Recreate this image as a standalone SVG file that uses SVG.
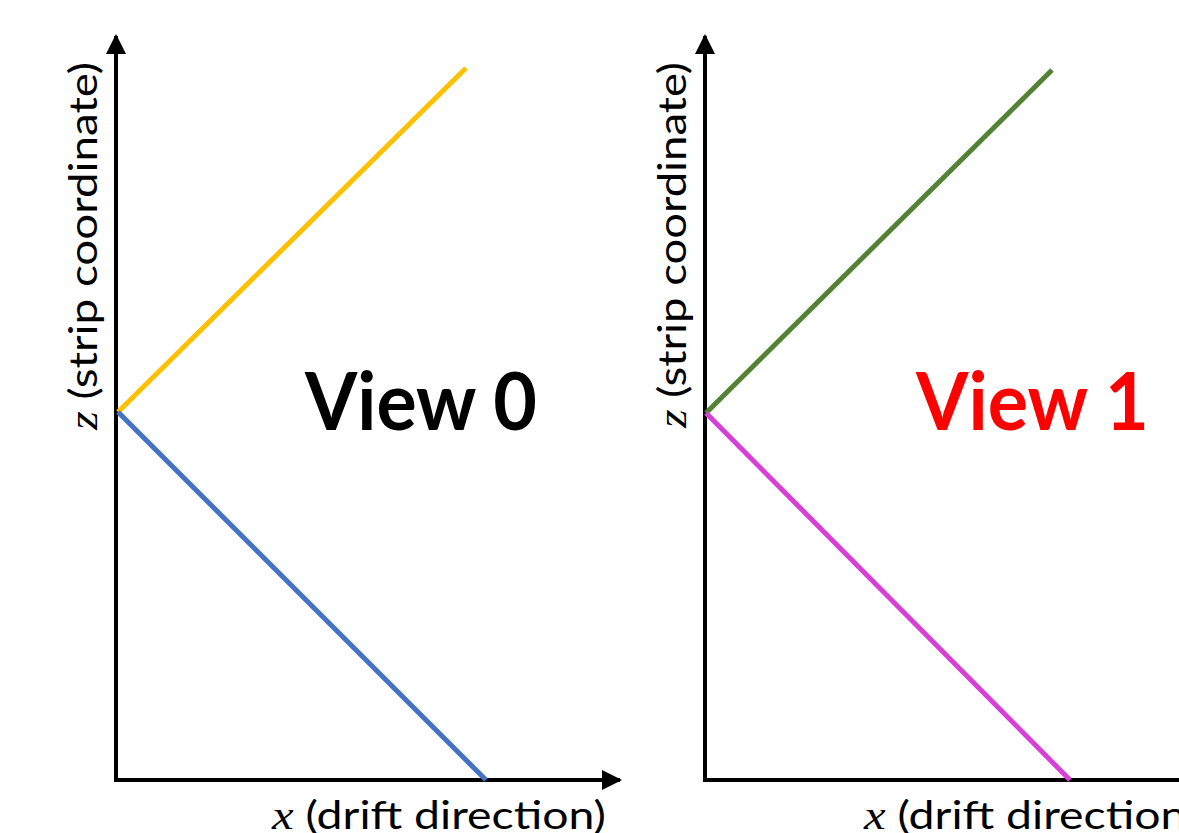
<svg xmlns="http://www.w3.org/2000/svg" width="1179" height="833" viewBox="0 0 1179 833">
<defs>
<marker id="ah" viewBox="0 0 10 10" refX="9" refY="5" markerWidth="5" markerHeight="5" orient="auto" markerUnits="strokeWidth"><path d="M0,0 L10,5 L0,10 z" fill="#000"/></marker>
</defs>
<style>
.ax{stroke:#000;stroke-width:4;fill:none}
.ln{stroke-width:5;fill:none;stroke-linecap:butt}
.lab{font-family:Lato,"Open Sans","Liberation Sans",sans-serif;font-size:38px;fill:#000}
.math{font-family:"Liberation Serif",serif;font-style:italic;font-size:40px}
.view{font-family:Lato,"Open Sans","Liberation Sans",sans-serif;font-weight:bold;font-size:80px}
</style>
<rect width="1179" height="833" fill="#fff"/>
<g id="axes">
<line class="ax" x1="116" y1="782" x2="116" y2="36" marker-end="url(#ah)"/>
<line class="ax" x1="114" y1="780" x2="620" y2="780" marker-end="url(#ah)"/>
<line class="ax" x1="705" y1="782" x2="705" y2="36" marker-end="url(#ah)"/>
<line class="ax" x1="703" y1="780" x2="1190" y2="780"/>
</g>
<g id="lines">
<line class="ln" stroke="#FFC000" x1="118" y1="412" x2="466" y2="68"/>
<line class="ln" stroke="#4472C4" x1="118" y1="412" x2="486" y2="780"/>
<line class="ln" stroke="#548235" x1="706" y1="413" x2="1052" y2="70"/>
<line class="ln" stroke="#D73FD7" x1="706" y1="413" x2="1070" y2="780"/>
</g>
<g id="labels">
<text class="lab" transform="translate(97,430) rotate(-90)" textLength="368" lengthAdjust="spacingAndGlyphs"><tspan class="math">z</tspan> (strip coordinate)</text>
<text class="lab" transform="translate(686,428) rotate(-90)" textLength="366" lengthAdjust="spacingAndGlyphs"><tspan class="math">z</tspan> (strip coordinate)</text>
<text class="lab" x="272" y="829" textLength="334" lengthAdjust="spacingAndGlyphs"><tspan class="math">x</tspan> (drift direction)</text>
<text class="lab" x="864" y="829" textLength="334" lengthAdjust="spacingAndGlyphs"><tspan class="math">x</tspan> (drift direction)</text>
</g>
<g id="view0"><text class="view" x="305" y="430" fill="#000" textLength="232" lengthAdjust="spacingAndGlyphs">View 0</text></g>
<g id="view1"><text class="view" x="916" y="430" fill="#FF0000" textLength="233" lengthAdjust="spacingAndGlyphs">View 1</text></g>
</svg>
